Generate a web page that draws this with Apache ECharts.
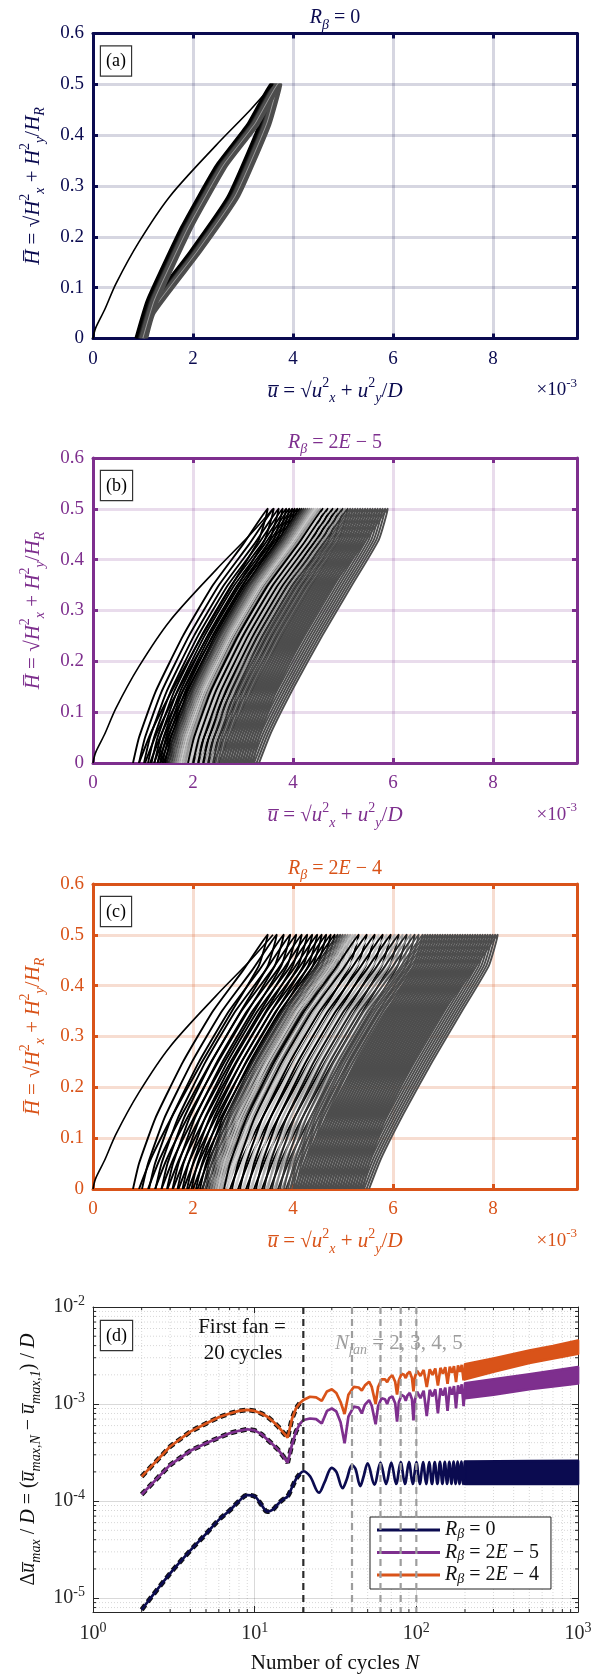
<!DOCTYPE html>
<html>
<head>
<meta charset="utf-8">
<script src="https://cdn.jsdelivr.net/npm/echarts@6/dist/echarts.min.js"></script>
<style>
  html, body { margin: 0; padding: 0; background: #fff; }
  #chart { width: 603px; height: 1674px; }
</style>
</head>
<body>
<div id="chart"></div>
<script>
// ---- data ----
// virgin (first loading) curve, u in 1e-3, H normalised
const virgin = [[0, 0], [0.05, 0.02], [0.23, 0.056], [0.46, 0.108], [0.92, 0.19], [1.54, 0.28], [2.46, 0.38], [3.15, 0.45], [3.6, 0.5]]
// loop shape relative to the loop start u (loading branch, then unloading branch)
// panel (a): wide saturated loop
const loopLoadA = [[0, 0], [0.23, 0.075], [0.92, 0.22], [1.61, 0.34], [2.23, 0.42], [2.69, 0.5]]
const loopUnloadA = [[2.47, 0.42], [1.85, 0.28], [1.08, 0.17], [0.16, 0.05], [0.01, 0]]
// panels (b), (c): narrow ratcheting loop
const loopLoadBC = [[0, 0], [0.12, 0.05], [0.45, 0.14], [1.0, 0.25], [1.6, 0.35], [2.2, 0.43], [2.69, 0.5]]
const loopUnloadBC = [[2.52, 0.44], [1.98, 0.35], [1.38, 0.25], [0.82, 0.15], [0.36, 0.06], [0.12, 0]]

// loop start positions (u at H = 0) and shades, one entry per drawn loop
const loopStartA = [0.85, 0.87, 0.89, 0.91, 0.93, 0.95, 0.97, 0.99, 1.01, 1.03, 1.05, 1.07]
const loopShadeA = ['#000', '#000', '#000', '#111', '#333', '#4d4d4d', '#4d4d4d', '#4d4d4d', '#9a9a9a', '#4d4d4d', '#4d4d4d', '#4d4d4d']

const loopStartB = [0.8, 0.92, 1.02, 1.1, 1.17, 1.23, 1.29, 1.34, 1.39, 1.44,
  1.48, 1.52, 1.56, 1.6, 1.64, 1.68, 1.72, 1.76, 1.8, 1.85,
  1.9, 1.95, 2.0, 2.05, 2.1, 2.15, 2.2, 2.25, 2.3, 2.35, 2.4,
  2.45, 2.5, 2.55, 2.6, 2.65, 2.7, 2.75, 2.8, 2.85, 2.9, 2.95, 3.0, 3.05, 3.1, 3.15, 3.2]
const loopShadeB = ['#000', '#000', '#000', '#000', '#000', '#000', '#000', '#000', '#000', '#000',
  '#1a1a1a', '#333', '#4d4d4d', '#666', '#808080', '#999', '#b3b3b3', '#c8c8c8', '#b3b3b3', '#999',
  '#000', '#d0d0d0', '#000', '#c8c8c8', '#000', '#bbb', '#000', '#aaa', '#1a1a1a', '#999', '#333',
  '#4d4d4d', '#4d4d4d', '#4d4d4d', '#4d4d4d', '#4d4d4d', '#4d4d4d', '#4d4d4d', '#4d4d4d',
  '#4d4d4d', '#4d4d4d', '#4d4d4d', '#4d4d4d', '#4d4d4d', '#4d4d4d', '#4d4d4d', '#4d4d4d']

const loopStartC = [0.8, 0.98, 1.12, 1.25, 1.37, 1.48, 1.59, 1.69, 1.79, 1.88, 1.97, 2.06, 2.14,
  2.2, 2.25, 2.3, 2.35, 2.4, 2.45, 2.5, 2.55,
  2.62, 2.7, 2.78, 2.86, 2.94, 3.02, 3.1, 3.18, 3.26, 3.34, 3.42, 3.5, 3.58, 3.66, 3.74, 3.82,
  3.9, 3.95, 4.0, 4.05, 4.1, 4.15, 4.2, 4.25, 4.3, 4.35, 4.4, 4.45, 4.5, 4.55, 4.6, 4.65,
  4.7, 4.75, 4.8, 4.85, 4.9, 4.95, 5.0, 5.05, 5.1, 5.15, 5.2, 5.25, 5.3, 5.35, 5.4]
const loopShadeC = ['#000', '#000', '#000', '#000', '#000', '#000', '#000', '#000', '#000', '#000', '#000', '#000', '#000',
  '#262626', '#404040', '#5a5a5a', '#737373', '#8c8c8c', '#a6a6a6', '#c0c0c0', '#b0b0b0',
  '#000', '#d4d4d4', '#000', '#cccccc', '#000', '#c4c4c4', '#000', '#bbb', '#000', '#b0b0b0', '#111', '#a0a0a0', '#222', '#888', '#333', '#4d4d4d',
  '#4d4d4d', '#4d4d4d', '#4d4d4d', '#4d4d4d', '#4d4d4d', '#4d4d4d', '#4d4d4d', '#4d4d4d', '#4d4d4d', '#4d4d4d',
  '#4d4d4d', '#4d4d4d', '#4d4d4d', '#4d4d4d', '#4d4d4d', '#4d4d4d', '#4d4d4d', '#4d4d4d', '#4d4d4d', '#4d4d4d',
  '#4d4d4d', '#4d4d4d', '#4d4d4d', '#4d4d4d', '#4d4d4d', '#4d4d4d', '#4d4d4d', '#4d4d4d', '#4d4d4d', '#4d4d4d', '#4d4d4d']

// panel (d): [N, delta u_max / D]
const duR0 = [[2, 7.6e-6], [3, 1.8e-5], [4, 3.1e-5], [5, 4.6e-5], [6, 6.4e-5], [7, 8.0e-5], [8, 1.0e-4], [9, 1.15e-4], [10, 1.12e-4],
  [11, 9.2e-5], [12, 7.8e-5], [13, 8.2e-5], [14, 9.4e-5], [15, 1.04e-4], [16, 1.12e-4], [17, 1.38e-4], [18, 1.68e-4], [19, 1.9e-4], [20, 2.03e-4],
  [22, 1.8e-4], [25, 1.22e-4], [27, 1.55e-4], [30, 2.2e-4], [32, 2.0e-4], [35, 1.36e-4], [37, 1.65e-4], [40, 2.35e-4], [42, 2.15e-4],
  [45, 1.43e-4], [47, 1.75e-4], [50, 2.45e-4], [55, 1.48e-4], [60, 2.5e-4], [65, 1.5e-4], [70, 2.5e-4], [75, 1.5e-4], [80, 2.52e-4],
  [85, 1.5e-4], [90, 2.52e-4], [95, 1.5e-4], [100, 2.52e-4], [105, 1.5e-4], [110, 2.53e-4], [115, 1.5e-4], [120, 2.53e-4], [125, 1.5e-4],
  [130, 2.53e-4], [135, 1.5e-4], [140, 2.54e-4], [145, 1.5e-4], [150, 2.54e-4], [155, 1.5e-4], [160, 2.54e-4], [165, 1.5e-4], [170, 2.55e-4],
  [175, 1.5e-4], [180, 2.55e-4], [185, 1.5e-4], [190, 2.55e-4], [195, 1.5e-4], [200, 2.55e-4]]
const duR2e5 = [[2, 1.17e-4], [3, 2.36e-4], [4, 3.3e-4], [5, 3.95e-4], [6, 4.5e-4], [7, 5.0e-4], [8, 5.3e-4], [9, 5.5e-4], [10, 5.35e-4],
  [11, 4.9e-4], [12, 4.3e-4], [13, 3.8e-4], [14, 3.37e-4], [15, 2.9e-4], [16, 2.49e-4], [17, 3.8e-4], [18, 5.2e-4], [19, 6.2e-4], [20, 6.85e-4],
  [22, 7.1e-4], [24, 7.0e-4], [26, 6.3e-4], [28, 8.5e-4], [30, 9.0e-4], [32, 8.4e-4], [34, 6.5e-4], [36, 3.95e-4], [38, 7.4e-4], [41, 9.4e-4],
  [44, 9.2e-4], [46, 8.0e-4], [48, 9.8e-4], [51, 1.1e-3], [53, 9.6e-4], [56, 6.2e-4], [58, 9.5e-4], [61, 1.15e-3], [64, 1.12e-3], [66, 1.0e-3],
  [68, 1.15e-3], [71, 1.2e-3], [74, 1.02e-3], [76, 6.6e-4], [78, 1.05e-3], [81, 1.24e-3], [84, 1.2e-3], [86, 1.08e-3], [88, 1.22e-3],
  [91, 1.3e-3], [94, 1.12e-3], [96, 6.8e-4], [98, 1.1e-3], [101, 1.34e-3], [106, 1.15e-3], [111, 1.37e-3], [116, 7.5e-4], [121, 1.4e-3],
  [126, 1.2e-3], [131, 1.42e-3], [136, 8.0e-4], [141, 1.45e-3], [146, 1.22e-3], [151, 1.48e-3], [156, 8.5e-4], [161, 1.5e-3], [166, 1.25e-3],
  [171, 1.53e-3], [176, 9.0e-4], [181, 1.56e-3], [186, 1.28e-3], [191, 1.6e-3], [196, 9.5e-4], [201, 1.63e-3]]
const duR2e4 = [[2, 1.79e-4], [3, 3.65e-4], [4, 5.2e-4], [5, 6.3e-4], [6, 7.3e-4], [7, 8.0e-4], [8, 8.5e-4], [9, 8.7e-4], [10, 8.5e-4],
  [11, 8.0e-4], [12, 7.4e-4], [13, 6.6e-4], [14, 5.85e-4], [15, 5.1e-4], [16, 4.5e-4], [17, 7.0e-4], [18, 9.0e-4], [19, 1.02e-3], [20, 1.1e-3],
  [22, 1.19e-3], [24, 1.17e-3], [26, 1.08e-3], [28, 1.35e-3], [30, 1.42e-3], [32, 1.3e-3], [34, 1.05e-3], [36, 7.9e-4], [38, 1.25e-3], [41, 1.5e-3],
  [44, 1.48e-3], [46, 1.38e-3], [48, 1.55e-3], [51, 1.7e-3], [53, 1.5e-3], [56, 1.0e-3], [58, 1.5e-3], [61, 1.8e-3], [64, 1.8e-3], [66, 1.68e-3],
  [68, 1.85e-3], [71, 1.98e-3], [74, 1.7e-3], [76, 1.25e-3], [78, 1.75e-3], [81, 2.05e-3], [84, 2.0e-3], [86, 1.85e-3], [88, 2.05e-3],
  [91, 2.15e-3], [94, 1.85e-3], [96, 1.35e-3], [98, 1.9e-3], [101, 2.2e-3], [106, 1.95e-3], [111, 2.25e-3], [116, 1.5e-3], [121, 2.28e-3],
  [126, 2.0e-3], [131, 2.32e-3], [136, 1.55e-3], [141, 2.36e-3], [146, 2.05e-3], [151, 2.4e-3], [156, 1.62e-3], [161, 2.43e-3], [166, 2.1e-3],
  [171, 2.46e-3], [176, 1.68e-3], [181, 2.5e-3], [186, 2.15e-3], [191, 2.53e-3], [196, 1.75e-3], [201, 2.56e-3]]
// dense oscillation from N = 200 on: upper / lower envelope
const bandR0Up = [[200, 2.55e-4], [500, 2.58e-4], [1000, 2.6e-4]]
const bandR0Lo = [[200, 1.5e-4], [500, 1.5e-4], [1000, 1.5e-4]]
const bandR2e5Up = [[200, 1.63e-3], [300, 1.8e-3], [500, 2.02e-3], [700, 2.2e-3], [1000, 2.4e-3]]
const bandR2e5Lo = [[200, 1.15e-3], [300, 1.25e-3], [500, 1.42e-3], [700, 1.52e-3], [1000, 1.63e-3]]
const bandR2e4Up = [[200, 2.56e-3], [300, 2.95e-3], [500, 3.55e-3], [700, 3.95e-3], [1000, 4.5e-3]]
const bandR2e4Lo = [[200, 1.8e-3], [300, 2.15e-3], [500, 2.65e-3], [700, 2.95e-3], [1000, 3.3e-3]]
const fanLines = [20, 40, 60, 80, 100]

// tick values
const minorN = [2, 3, 4, 5, 6, 7, 8, 9, 20, 30, 40, 50, 60, 70, 80, 90, 200, 300, 400, 500, 600, 700, 800, 900]
const minorDu = [8e-6, 9e-6, 2e-5, 3e-5, 4e-5, 5e-5, 6e-5, 7e-5, 8e-5, 9e-5, 2e-4, 3e-4, 4e-4, 5e-4, 6e-4, 7e-4, 8e-4, 9e-4,
  2e-3, 3e-3, 4e-3, 5e-3, 6e-3, 7e-3, 8e-3, 9e-3]

// ---- styling ----
const SERIF = "'Liberation Serif', 'Times New Roman', Times, serif"
const NAVY = '#0b0b50'
const PURPLE = '#7e2f8e'
const ORANGE = '#d95319'
const INK = '#262626'

const L = 93, W = 484, H = 305
const tops = [33.5, 458, 884]

function richSet(color, size, lh) {
  const line = lh || Math.round(size * 1.4)
  const base = { fontFamily: SERIF, fontSize: size, fill: color, color: color, lineHeight: line }
  const small = Math.round(size * 0.68)
  return {
    n: { ...base },
    i: { ...base, fontStyle: 'italic' },
    sub: { fontFamily: SERIF, fontStyle: 'italic', fontSize: small, fill: color, color: color, verticalAlign: 'bottom', lineHeight: small + 1 },
    sup: { fontFamily: SERIF, fontSize: small, fill: color, color: color, verticalAlign: 'top', lineHeight: small + 5 }
  }
}

function label(text, x, y, color, size, extra) {
  return Object.assign({
    type: 'text', x, y, z: 100,
    style: {
      text, rich: richSet(color, size), fill: color, fontFamily: SERIF, fontSize: size,
      align: 'center', textAlign: 'center', verticalAlign: 'middle', textVerticalAlign: 'middle'
    }
  }, extra || {})
}

function tagBox(text, x, y) {
  return {
    type: 'text', x, y, z: 100,
    style: {
      text, fontFamily: SERIF, fontSize: 18, fill: '#000', backgroundColor: '#fff',
      borderColor: '#333', borderWidth: 1.2, padding: [6, 5, 5, 5]
    }
  }
}

// only the round ticks carry a label (the axis ends at 9.68)
const uLabel = v => (Math.abs(v - Math.round(v)) < 1e-9 && Math.round(v) % 2 === 0 ? String(Math.round(v)) : '')

const titles = ['{i|R}{sub|β}{n| = 0}', '{i|R}{sub|β}{n| = 2}{i|E}{n| − 5}', '{i|R}{sub|β}{n| = 2}{i|E}{n| − 4}']
const hName = '{i|H\u0305}{n| = √}{i|H}{sup|2}{sub|x}{n| + }{i|H}{sup|2}{sub|y}{n|/}{i|H}{sub|R}'
const uName = '{i|u\u0305}{n| = √}{i|u}{sup|2}{sub|x}{n| + }{i|u}{sup|2}{sub|y}{n|/}{i|D}'
const colors = [NAVY, PURPLE, ORANGE]
const lights = ['rgba(11,11,80,0.17)', 'rgba(126,47,142,0.17)', 'rgba(217,83,25,0.2)']
const loopSets = [
  [loopStartA, loopShadeA, loopLoadA.concat(loopUnloadA), 2.4],
  [loopStartB, loopShadeB, loopLoadBC.concat(loopUnloadBC), 1.9],
  [loopStartC, loopShadeC, loopLoadBC.concat(loopUnloadBC), 1.9]
]

const grids = [], xAxes = [], yAxes = [], series = [], graphics = []

tops.forEach((top, k) => {
  const c = colors[k], light = lights[k]
  grids.push({ left: L, top, width: W, height: H })
  const common = {
    type: 'value', gridIndex: k,
    axisLine: { show: true, onZero: false, lineStyle: { color: c, width: 3 } },
    axisTick: { show: true, inside: true, length: 5, lineStyle: { color: c, width: 3 } }
  }
  xAxes.push({
    ...common, min: 0, max: 9.68, interval: 2, position: 'bottom',
    axisLabel: { color: c, fontFamily: SERIF, fontSize: 19, margin: 11, formatter: uLabel },
    splitLine: { show: true, lineStyle: { color: light, width: 3 } }
  })
  xAxes.push({ ...common, min: 0, max: 9.68, interval: 2, position: 'top', axisLabel: { show: false }, splitLine: { show: false } })
  yAxes.push({
    ...common, min: 0, max: 0.6, interval: 0.1, position: 'left',
    axisLabel: { color: c, fontFamily: SERIF, fontSize: 19, margin: 9 },
    splitLine: { show: true, lineStyle: { color: light, width: 3 } }
  })
  yAxes.push({ ...common, min: 0, max: 0.6, interval: 0.1, position: 'right', axisLabel: { show: false }, splitLine: { show: false } })

  const [starts, shades, shape, lw] = loopSets[k]
  series.push({
    type: 'custom', xAxisIndex: 2 * k, yAxisIndex: 2 * k, clip: true, silent: true, z: 3,
    data: starts.map(s => [s, 0.25]),
    renderItem: (params, api) => {
      const s = api.value(0)
      const pts = shape.map(p => api.coord([s + p[0], p[1]]))
      return { type: 'polyline', shape: { points: pts, smooth: 0.15 }, style: { stroke: shades[params.dataIndex], lineWidth: lw, fill: null } }
    }
  })
  series.push({
    type: 'line', xAxisIndex: 2 * k, yAxisIndex: 2 * k, data: virgin, symbol: 'none', smooth: 0.3,
    lineStyle: { color: '#000', width: 1.6 }, z: 4, silent: true
  })

  graphics.push(label(titles[k], 335, top - 15.5, c, 20))
  graphics.push(label(hName, 33, top + H / 2, c, 21, { rotation: Math.PI / 2 }))
  graphics.push(label(uName, 335, top + H + 52.5, c, 21))
  graphics.push({
    type: 'text', x: 577, y: top + H + 52, z: 100,
    style: { text: '{n|×10}{sup|-3}', rich: richSet(c, 19), align: 'right', textAlign: 'right', verticalAlign: 'middle', textVerticalAlign: 'middle' }
  })
  graphics.push(tagBox(['(a)', '(b)', '(c)'][k], 101, top + 13))
})

// ---- panel (d) ----
const DT = 1307
grids.push({ left: L, top: DT, width: 485, height: H })
const powRich = {
  b: { fontFamily: SERIF, fontSize: 20, color: INK, lineHeight: 26 },
  s: { fontFamily: SERIF, fontSize: 14, color: INK, verticalAlign: 'top', lineHeight: 16 }
}
const powLabel = v => '{b|10}{s|' + Math.round(Math.log10(v)) + '}'
const logCommon = {
  type: 'log', logBase: 10, gridIndex: 3,
  axisLine: { show: true, onZero: false, lineStyle: { color: INK, width: 1 } },
  axisTick: { show: true, inside: true, length: 6, lineStyle: { color: INK, width: 1 } }
}
xAxes.push({
  ...logCommon, min: 1, max: 1000, position: 'bottom',
  axisLabel: { formatter: powLabel, rich: powRich, margin: 9 },
  splitLine: { show: true, lineStyle: { color: 'rgba(0,0,0,0.15)', width: 1 } }
})
xAxes.push({ ...logCommon, min: 1, max: 1000, position: 'top', axisLabel: { show: false }, splitLine: { show: false } })
yAxes.push({
  ...logCommon, min: 7.2e-6, max: 1e-2, position: 'left',
  axisLabel: { formatter: powLabel, rich: powRich, margin: 8, showMinLabel: false },
  splitLine: { show: true, lineStyle: { color: 'rgba(0,0,0,0.15)', width: 1 } }
})
yAxes.push({ ...logCommon, min: 7.2e-6, max: 1e-2, position: 'right', axisLabel: { show: false }, splitLine: { show: false } })

// minor grid + minor ticks
series.push({
  type: 'custom', xAxisIndex: 6, yAxisIndex: 6, silent: true, z: 1,
  data: minorN.map(v => [v, 1e-3]),
  renderItem: (params, api) => {
    const cs = params.coordSys
    const x = api.coord([api.value(0), 1e-3])[0]
    const b = cs.y + cs.height
    return {
      type: 'group', children: [
        { type: 'line', shape: { x1: x, y1: cs.y, x2: x, y2: b }, style: { stroke: 'rgba(0,0,0,0.16)', lineWidth: 1, lineDash: [1, 2] } },
        { type: 'line', shape: { x1: x, y1: b, x2: x, y2: b - 3 }, style: { stroke: INK, lineWidth: 1 } },
        { type: 'line', shape: { x1: x, y1: cs.y, x2: x, y2: cs.y + 3 }, style: { stroke: INK, lineWidth: 1 } }
      ]
    }
  }
})
series.push({
  type: 'custom', xAxisIndex: 6, yAxisIndex: 6, silent: true, z: 1,
  data: minorDu.map(v => [10, v]),
  renderItem: (params, api) => {
    const cs = params.coordSys
    const y = api.coord([10, api.value(1)])[1]
    const r = cs.x + cs.width
    return {
      type: 'group', children: [
        { type: 'line', shape: { x1: cs.x, y1: y, x2: r, y2: y }, style: { stroke: 'rgba(0,0,0,0.16)', lineWidth: 1, lineDash: [1, 2] } },
        { type: 'line', shape: { x1: cs.x, y1: y, x2: cs.x + 3, y2: y }, style: { stroke: INK, lineWidth: 1 } },
        { type: 'line', shape: { x1: r, y1: y, x2: r - 3, y2: y }, style: { stroke: INK, lineWidth: 1 } }
      ]
    }
  }
})

const curves = [
  { name: 'R0', data: duR0, color: NAVY, up: bandR0Up, lo: bandR0Lo, smooth: 0.35 },
  { name: 'R2e5', data: duR2e5, color: PURPLE, up: bandR2e5Up, lo: bandR2e5Lo, smooth: false },
  { name: 'R2e4', data: duR2e4, color: ORANGE, up: bandR2e4Up, lo: bandR2e4Lo, smooth: false }
]
curves.forEach(cv => {
  series.push({
    type: 'line', xAxisIndex: 6, yAxisIndex: 6, silent: true, symbol: 'none', z: 2,
    data: cv.data.slice(0, 18), smooth: cv.smooth,
    lineStyle: { color: '#111', width: 4.8, type: [6, 4] }
  })
  series.push({
    type: 'line', name: cv.name, xAxisIndex: 6, yAxisIndex: 6, silent: true, symbol: 'none', showSymbol: false, z: 3,
    data: cv.data, smooth: cv.smooth, itemStyle: { color: cv.color },
    lineStyle: { color: cv.color, width: 2.7 }
  })
  series.push({
    type: 'custom', xAxisIndex: 6, yAxisIndex: 6, silent: true, z: 3,
    data: [[500, cv.lo[0][1]]],
    renderItem: (params, api) => {
      const pts = cv.up.map(p => api.coord(p)).concat(cv.lo.slice().reverse().map(p => api.coord(p)))
      return { type: 'polygon', shape: { points: pts }, style: { fill: cv.color, stroke: cv.color, lineWidth: 2.7, lineJoin: 'round' } }
    }
  })
})

// fan boundaries
series.push({
  type: 'custom', xAxisIndex: 6, yAxisIndex: 6, silent: true, z: 5,
  data: fanLines.map(n => [n, 1e-3]),
  renderItem: (params, api) => {
    const cs = params.coordSys
    const x = api.coord([api.value(0), 1e-3])[0]
    const col = params.dataIndex === 0 ? '#2b2b2b' : '#9d9d9d'
    return { type: 'line', shape: { x1: x, y1: cs.y, x2: x, y2: cs.y + cs.height }, style: { stroke: col, lineWidth: 2.2, lineDash: [7, 5] } }
  }
})

const legendText = {
  R0: '{i|R}{sub|β}{n| = 0}',
  R2e5: '{i|R}{sub|β}{n| = 2}{i|E}{n| − 5}',
  R2e4: '{i|R}{sub|β}{n| = 2}{i|E}{n| − 4}'
}

graphics.push(tagBox('(d)', 101, 1321))
graphics.push(label('{n|First fan =}', 242, 1327, '#111', 21))
graphics.push(label('{n|20 cycles}', 243, 1353, '#111', 21))
graphics.push({
  type: 'text', x: 335, y: 1343, z: 100,
  style: { text: '{i|N}{sub|fan}{n| = 2, 3, 4, 5}', rich: richSet('#9d9d9d', 21), align: 'left', textAlign: 'left', verticalAlign: 'middle', textVerticalAlign: 'middle' }
})
graphics.push(label('{n|Δ}{i|u\u0305}{sub|max}{n| / }{i|D}{n| = (}{i|u\u0305}{sub|max,N}{n| − }{i|u\u0305}{sub|max,1}{n|) / }{i|D}',
  29, DT + H / 2, '#111', 20, { rotation: Math.PI / 2 }))
graphics.push(label('{n|Number of cycles }{i|N}', 335, 1663, '#111', 21))

const option = {
  animation: false,
  backgroundColor: '#fff',
  grid: grids,
  xAxis: xAxes,
  yAxis: yAxes,
  legend: {
    data: ['R0', 'R2e5', 'R2e4'],
    orient: 'vertical', left: 370, top: 1517,
    backgroundColor: '#fff', borderColor: '#222', borderWidth: 1, borderRadius: 0,
    padding: [3, 12, 3, 7], icon: 'rect', itemWidth: 63, itemHeight: 3, itemGap: 1.5,
    formatter: name => legendText[name],
    textStyle: { rich: richSet('#111', 20, 22) }
  },
  series,
  graphic: { elements: graphics }
}

const chart = echarts.init(document.getElementById('chart'), null, { renderer: 'canvas' })
chart.setOption(option)
</script>
</body>
</html>
